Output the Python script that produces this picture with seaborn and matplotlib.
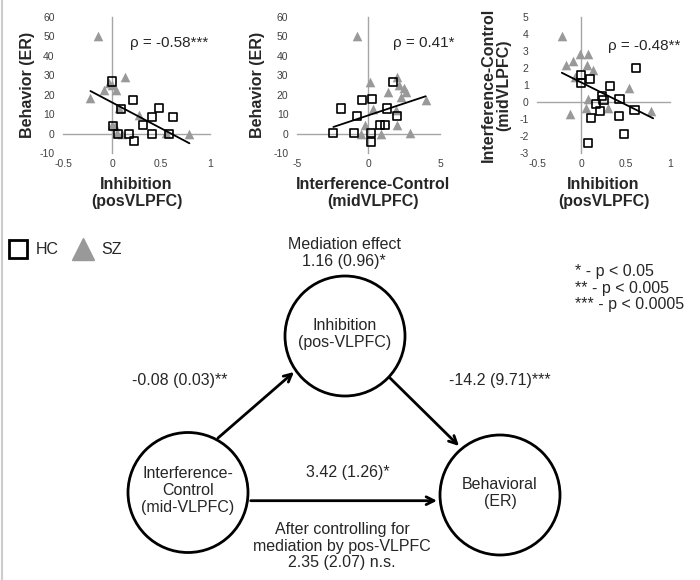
import matplotlib
matplotlib.use("Agg")
import matplotlib.pyplot as plt
from matplotlib.patches import Circle
from matplotlib.lines import Line2D
import seaborn as sns

# ---- data ----
# panel 1: Inhibition (posVLPFC) vs Behavior (ER)
p1_hc_x = [0.00, 0.21, 0.09, 0.48, 0.41, 0.62, 0.32, 0.41, 0.58, 0.06, 0.17, 0.22, 0.01]
p1_hc_y = [26.8, 17.3, 12.8, 13.0, 8.7, 8.7, 4.4, 0.0, 0.0, 0.0, 0.0, -3.8, 4.0]
p1_sz_x = [-0.14, 0.13, -0.03, -0.08, 0.04, 0.00, -0.22, 0.07, 0.00, 0.03, 0.05, 0.28, 0.55, 0.79, 0.10]
p1_sz_y = [50.4, 29.3, 26.0, 22.4, 22.5, 25.0, 18.2, 13.0, 4.4, 4.0, 0.5, 9.6, 0.5, 0.0, 0.0]
p1_fit_x = [-0.22, 0.79]
p1_fit_y = [21.9, -5.0]

# panel 2: Interference-Control (midVLPFC) vs Behavior (ER)
p2_hc_x = [1.72, -0.42, 0.28, -1.93, -0.82, 1.33, 2.02, 0.81, 1.14, -2.44, -1.00, 0.16, 0.16]
p2_hc_y = [26.6, 17.2, 18.0, 12.9, 8.9, 12.9, 8.9, 4.6, 4.6, 0.3, 0.3, 0.3, -4.3]
p2_sz_x = [-0.82, 0.12, 1.97, 1.40, 2.14, 2.49, 2.60, 2.25, 4.00, 2.02, 2.88, 0.90, 0.30, -0.24, -0.54, 1.90]
p2_sz_y = [50.3, 26.6, 29.2, 21.4, 24.9, 23.2, 21.4, 18.9, 17.2, 4.3, 0.3, 0.0, 12.5, 4.3, 0.0, 12.0]
p2_fit_x = [-2.44, 4.0]
p2_fit_y = [3.4, 19.2]

# panel 3: Inhibition (posVLPFC) vs Interference-Control (midVLPFC)
p3_hc_x = [0.00, 0.10, 0.00, 0.32, 0.23, 0.25, 0.17, 0.43, 0.60, 0.62, 0.42, 0.11, 0.21, 0.48, 0.08]
p3_hc_y = [1.14, 1.33, 1.60, 0.94, 0.35, 0.10, -0.10, 0.16, -0.47, 1.98, -0.82, -0.96, -0.53, -1.90, -2.43]
p3_sz_x = [-0.22, -0.17, -0.09, -0.02, 0.08, 0.06, 0.13, -0.07, -0.13, 0.07, 0.05, 0.30, 0.54, 0.79]
p3_sz_y = [3.9, 2.2, 2.4, 2.8, 2.8, 2.2, 1.9, 1.5, -0.7, 0.2, -0.33, -0.37, 0.8, -0.53]
p3_fit_x = [-0.22, 0.81]
p3_fit_y = [1.72, -0.96]

inh_ticks = [-0.5, 0, 0.5, 1]
ic_ticks = [-5, 0, 5]
er_ticks = [-10, 0, 10, 20, 30, 40, 50, 60]
ic_yticks = [-3, -2, -1, 0, 1, 2, 3, 4, 5]

rho_labels = ["\u03c1 = -0.58***", "\u03c1 = 0.41*", "\u03c1 = -0.48**"]

GRAY = "#999999"
AXGRAY = "#a6a6a6"
FS = 11.5

sns.set_style("white")
plt.rcParams["font.family"] = ["Liberation Sans", "DejaVu Sans"]
plt.rcParams["axes.unicode_minus"] = False

fig = plt.figure(figsize=(7, 5.8), dpi=100)
W, H = 700, 580

# overlay axes in pixel coordinates for the mediation diagram
ov = fig.add_axes([0, 0, 1, 1])
ov.set_xlim(0, W)
ov.set_ylim(H, 0)
ov.axis("off")


def px_rect(l, t, r, b):
    return [l / W, 1 - b / H, (r - l) / W, (b - t) / H]


def panel(rect, hc_x, hc_y, sz_x, sz_y, fit_x, fit_y, xlim, ylim, xticks, yticks,
          xlabel, ylabel, rho, rho_xy, ylab_x, xlab_x):
    ax = fig.add_axes(rect)
    sns.scatterplot(x=sz_x, y=sz_y, marker="^", color=GRAY, s=48, linewidth=0, ax=ax, zorder=3)
    sns.scatterplot(x=hc_x, y=hc_y, marker="s", s=34, facecolor="none", edgecolor="black",
                    linewidth=1.2, ax=ax, zorder=4)
    sns.lineplot(x=fit_x, y=fit_y, color="black", linewidth=1.3, ax=ax, zorder=5)
    ax.set_xlim(*xlim)
    ax.set_ylim(*ylim)
    ax.patch.set_alpha(0)
    for s in ["top", "right"]:
        ax.spines[s].set_visible(False)
    ax.spines["left"].set_position(("data", 0))
    ax.spines["bottom"].set_position(("data", 0))
    for s in ["left", "bottom"]:
        ax.spines[s].set_color(AXGRAY)
        ax.spines[s].set_linewidth(1)
    ax.set_xticks(xticks)
    ax.set_yticks(yticks)
    ax.tick_params(length=3, width=0.8, color=AXGRAY, labelleft=False, labelbottom=False)

    # tick labels sit at the frame edges, like the spreadsheet "low" label position
    sy = ax.secondary_yaxis("left")
    sy.set_yticks(yticks)
    sy.set_yticklabels([f"{v:g}" for v in yticks])
    sy.spines["left"].set_visible(False)
    sy.tick_params(length=0, labelsize=7.5, labelcolor="#404040", pad=6)
    sx = ax.secondary_xaxis("bottom")
    sx.set_xticks(xticks)
    sx.set_xticklabels([f"{v:g}" for v in xticks])
    sx.spines["bottom"].set_visible(False)
    sx.tick_params(length=0, labelsize=7.5, labelcolor="#404040", pad=4)

    ax.set_xlabel(xlabel, fontsize=FS, fontweight="bold", linespacing=1.1)
    ax.xaxis.set_label_coords(xlab_x, -0.18)
    ax.set_ylabel(ylabel, fontsize=FS, fontweight="bold", linespacing=1.1)
    ax.yaxis.set_label_coords(ylab_x, 0.5)
    ax.text(rho_xy[0], rho_xy[1], rho, transform=ax.transAxes, fontsize=11,
            ha="left", va="center", clip_on=False)
    return ax


panel(px_rect(63, 17, 210, 153), p1_hc_x, p1_hc_y, p1_sz_x, p1_sz_y, p1_fit_x, p1_fit_y,
      (-0.5, 1), (-10, 60), inh_ticks, er_ticks,
      "Inhibition\n(posVLPFC)", "Behavior (ER)", rho_labels[0], (0.456, 0.81), -0.19, 0.5)
panel(px_rect(296.7, 17, 440, 153), p2_hc_x, p2_hc_y, p2_sz_x, p2_sz_y, p2_fit_x, p2_fit_y,
      (-5, 5), (-10, 60), ic_ticks, er_ticks,
      "Interference-Control\n(midVLPFC)", "Behavior (ER)", rho_labels[1], (0.672, 0.81), -0.22, 0.53)
panel(px_rect(537, 17, 670, 153), p3_hc_x, p3_hc_y, p3_sz_x, p3_sz_y, p3_fit_x, p3_fit_y,
      (-0.5, 1), (-3, 5), inh_ticks, ic_yticks,
      "Inhibition\n(posVLPFC)", "Interference-Control\n(midVLPFC)", rho_labels[2], (0.534, 0.787), -0.19, 0.5)

# group legend
handles = [
    Line2D([], [], marker="s", ls="none", mfc="none", mec="black", ms=13, mew=2, label="HC"),
    Line2D([], [], marker="^", ls="none", color=GRAY, ms=16, label="SZ"),
]
fig.legend(handles=handles, ncol=2, loc="center left", bbox_to_anchor=(0.011, 1 - 250 / H),
           frameon=False, fontsize=FS, handletextpad=0.45, columnspacing=0.9,
           borderaxespad=0, borderpad=0, handlelength=1.3)

# mediation diagram
R = 60
nodes = {
    "top": ((345, 336), "Inhibition\n(pos-VLPFC)"),
    "left": ((188, 492.5), "Interference-\nControl\n(mid-VLPFC)"),
    "right": ((500, 495), "Behavioral\n(ER)"),
}
for (cx, cy), label in nodes.values():
    ov.add_patch(Circle((cx, cy), R, fill=False, ec="black", lw=2))
    ov.text(cx, cy - 2, label, ha="center", va="center", fontsize=FS, linespacing=1.15)

arrows = [((218, 438), (294, 372)), ((390, 378), (459, 446)), ((250.7, 500.7), (437, 500.7))]
for start, end in arrows:
    ov.annotate("", xy=end, xytext=start,
                arrowprops=dict(arrowstyle="->", lw=2, color="black", mutation_scale=14,
                                shrinkA=0, shrinkB=0))

ov.text(344, 253, "Mediation effect\n1.16 (0.96)*", ha="center", va="center", fontsize=FS, linespacing=1.15)
ov.text(180, 380, "-0.08 (0.03)**", ha="center", va="center", fontsize=FS)
ov.text(500, 380, "-14.2 (9.71)***", ha="center", va="center", fontsize=FS)
ov.text(348, 472, "3.42 (1.26)*", ha="center", va="center", fontsize=FS)
ov.text(342, 546, "After controlling for\nmediation by pos-VLPFC\n2.35 (2.07) n.s.",
        ha="center", va="center", fontsize=FS, linespacing=1.15)
ov.text(575, 288, "* - p < 0.05\n** - p < 0.005\n*** - p < 0.0005",
        ha="left", va="center", fontsize=FS, linespacing=1.15)
ov.axvline(1.5, color="#cccccc", lw=1.5)

fig.savefig("out.png", dpi=100)
